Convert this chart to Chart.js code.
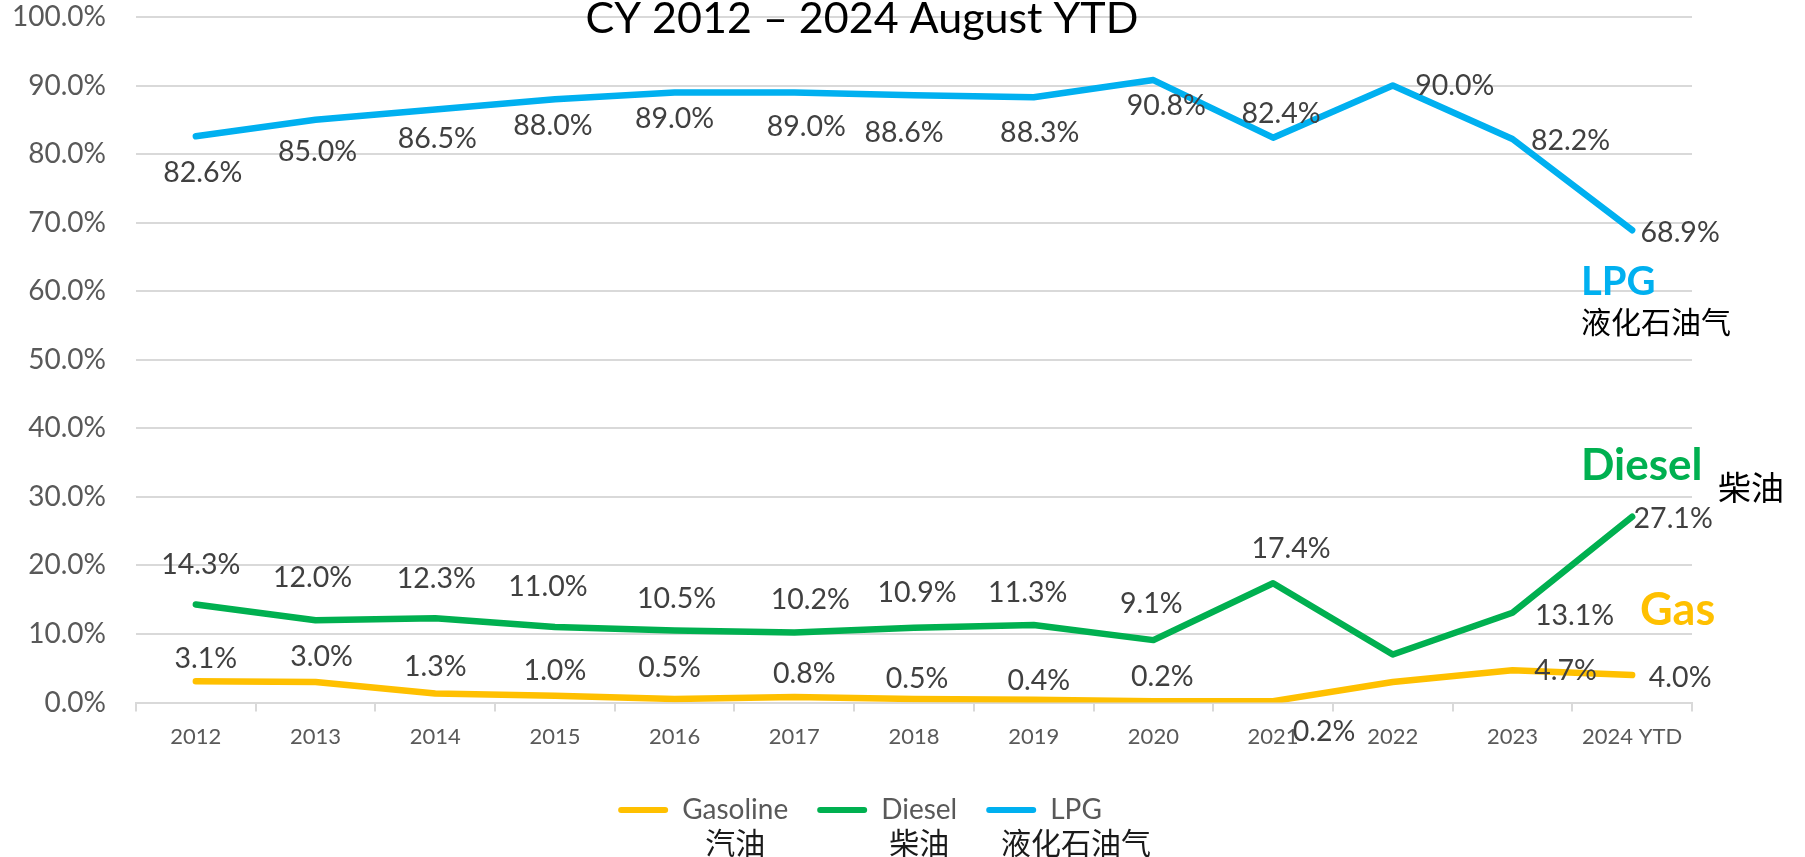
<!DOCTYPE html>
<html><head><meta charset="utf-8">
<script src="https://cdn.jsdelivr.net/npm/chart.js@4/dist/chart.umd.min.js"></script>
<style>html,body{margin:0;padding:0;background:#fff;overflow:hidden}#wrap{width:1805px;height:857px;position:relative}</style>
</head><body><div id="wrap"><canvas id="c"></canvas></div>
<script>
// ---------- data ----------
const categories = ['2012','2013','2014','2015','2016','2017','2018','2019','2020','2021','2022','2023','2024 YTD'];
const gasoline = [3.1, 3.0, 1.3, 1.0, 0.5, 0.8, 0.5, 0.4, 0.2, 0.2, 3.0, 4.7, 4.0];
const diesel   = [14.3, 12.0, 12.3, 11.0, 10.5, 10.2, 10.9, 11.3, 9.1, 17.4, 7.0, 13.1, 27.1];
const lpg      = [82.6, 85.0, 86.5, 88.0, 89.0, 89.0, 88.6, 88.3, 90.8, 82.4, 90.0, 82.2, 68.9];
const seriesNames   = ['Gasoline', 'Diesel', 'LPG'];
const seriesNamesZh = ['汽油', '柴油', '液化石油气'];
const titleText = 'CY 2012 – 2024 August YTD';
const yMin = 0, yMax = 100, yStep = 10;

// ---------- styles / label placement (pixel offsets from each point) ----------
const colors = ['#FFC000', '#00B050', '#00B0F0'];
const labelOffsets = [
  [[10,-22],[6,-25],[0,-27],[0,-25],[-5,-31],[10,-23],[3,-20],[5,-19],[9,-24],[51,31],null,[53,1],[48,3]],
  [[5,-40],[-3,-42],[1,-39],[-7,-40],[2,-32],[16,-33],[3,-35],[-6,-32],[-2,-36],[18,-34],null,[62,3],[41,2]],
  [[7,37],[2,32],[2,29],[-2,27],[0,26],[12,34],[-10,38],[6,36],[13,26],[8,-24],[62,0],[58,2],[48,3]]
];
const sideNotes = [
  {text:'LPG', x:1581, y:282, font:'bold 40px Lato', color:'#00B0F0'},
  {text:'液化石油气', x:1581, y:322, font:'30px "Noto Sans CJK SC"', color:'#000'},
  {text:'Diesel', x:1581, y:466, font:'bold 44px Lato', color:'#00B050'},
  {text:'柴油', x:1718, y:487, font:'33px "Noto Sans CJK SC"', color:'#000'},
  {text:'Gas', x:1640, y:610, font:'bold 45px Lato', color:'#FFC000'}
];
const fontFamily = 'Lato, "Noto Sans CJK SC", sans-serif';
const legendFontSize = 28, legendBoxWidth = 50;

const labelPlugin = {
  id: 'customLabels',
  afterDatasetsDraw(chart) {
    const ctx = chart.ctx;
    ctx.save();
    ctx.font = '28.5px ' + fontFamily;
    ctx.fillStyle = '#404040';
    ctx.textAlign = 'center';
    ctx.textBaseline = 'middle';
    chart.data.datasets.forEach((ds, di) => {
      const meta = chart.getDatasetMeta(di);
      meta.data.forEach((pt, i) => {
        const off = labelOffsets[di][i];
        if (!off) return;
        ctx.fillText(ds.data[i].toFixed(1) + '%', pt.x + off[0], pt.y + off[1]);
      });
    });
    ctx.restore();
  },
  afterDraw(chart) {
    const ctx = chart.ctx;
    ctx.save();
    ctx.textBaseline = 'middle';
    ctx.textAlign = 'left';
    sideNotes.forEach(n => { ctx.font = n.font; ctx.fillStyle = n.color; ctx.fillText(n.text, n.x, n.y); });
    // second (Chinese) line of each legend entry, centred under the English name
    const leg = chart.legend;
    if (leg && leg.legendHitBoxes) {
      leg.legendHitBoxes.forEach((hb, i) => {
        ctx.font = legendFontSize + 'px ' + fontFamily;
        const w = ctx.measureText(leg.legendItems[i].text).width;
        const cx = hb.left + legendBoxWidth + legendFontSize / 2 + w / 2;
        ctx.font = '30px "Noto Sans CJK SC"';
        ctx.fillStyle = '#1a1a1a';
        ctx.textAlign = 'center';
        ctx.fillText(seriesNamesZh[i], cx, hb.top + legendFontSize / 2 + 33);
      });
    }
    ctx.font = '43px ' + fontFamily;
    ctx.fillStyle = '#000';
    ctx.textAlign = 'center';
    ctx.textBaseline = 'alphabetic';
    ctx.fillText(titleText, 862, 33);
    ctx.restore();
  }
};

const series = [gasoline, diesel, lpg];
new Chart(document.getElementById('c'), {
  type: 'line',
  data: {
    labels: categories,
    datasets: series.map((d, i) => ({
      label: seriesNames[i],
      data: d,
      yAxisID: 'y',
      borderColor: colors[i],
      backgroundColor: colors[i],
      borderWidth: 6.5,
      pointRadius: 0,
      tension: 0,
      borderJoinStyle: 'round',
      borderCapStyle: 'round'
    }))
  },
  options: {
    responsive: true,
    maintainAspectRatio: false,
    animation: false,
    layout: { padding: { top: 17, right: 85, left: 0, bottom: 23 } },
    plugins: {
      tooltip: { enabled: false },
      title: { display: false },
      legend: {
        position: 'bottom',
        labels: {
          boxWidth: legendBoxWidth,
          boxHeight: 6,
          padding: 29,
          useBorderRadius: true,
          borderRadius: 3,
          color: '#595959',
          font: { family: fontFamily, size: legendFontSize },
          generateLabels(chart) {
            return chart.data.datasets.map((ds, i) => ({
              text: seriesNames[i],
              fillStyle: colors[i],
              strokeStyle: colors[i],
              lineWidth: 0,
              fontColor: '#595959',
              borderRadius: 3,
              datasetIndex: i,
              hidden: false
            }));
          }
        }
      }
    },
    scales: {
      x: {
        offset: true,
        grid: { display: true, offset: true, drawOnChartArea: false, drawTicks: true, tickLength: 9, color: '#D9D9D9', lineWidth: 2 },
        border: { display: true, color: '#D9D9D9', width: 2 },
        ticks: { color: '#595959', font: { family: fontFamily, size: 22 }, padding: 12, maxRotation: 0, autoSkip: false },
        afterFit(scale) { scale.height = 64.5; }
      },
      y: {
        min: yMin, max: yMax,
        grid: { color: '#D9D9D9', lineWidth: 2, drawTicks: true, tickLength: 30, tickColor: 'rgba(0,0,0,0)' },
        border: { display: false },
        ticks: { stepSize: yStep, color: '#595959', font: { family: fontFamily, size: 28 }, padding: 0,
                 callback: v => v.toFixed(1) + '%' },
        afterFit(scale) { scale.width = 136; }
      },
      yRightSpace: {
        position: 'right',
        min: yMin, max: yMax,
        grid: { display: false, drawTicks: false },
        border: { display: false },
        ticks: { display: false },
        afterFit(scale) { scale.width = 28; }
      }
    }
  },
  plugins: [labelPlugin]
});
</script></body></html>
